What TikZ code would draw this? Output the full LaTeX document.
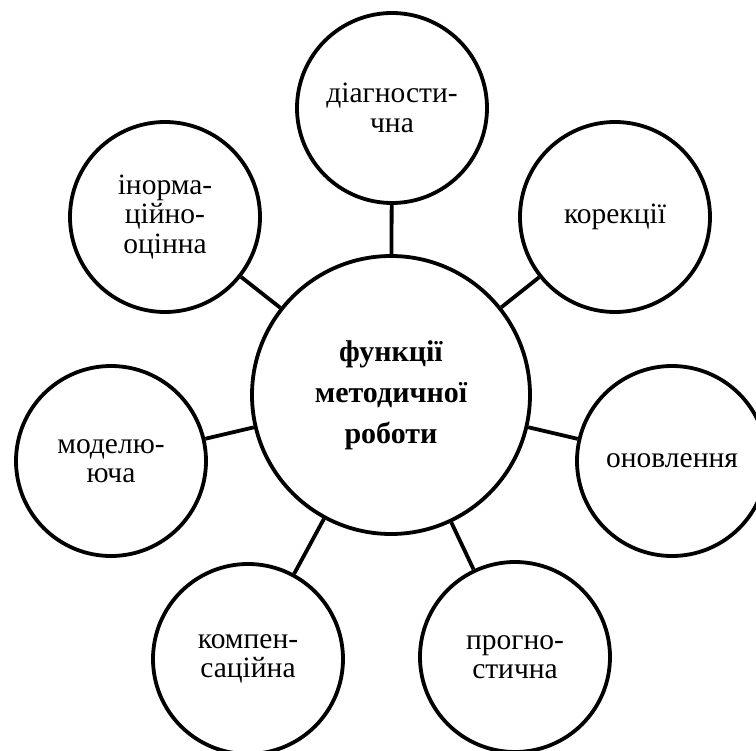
\documentclass[tikz,border=0pt]{standalone}
\usepackage{fontspec}
\setmainfont{Liberation Serif}
\IfFontExistsTF{LiberationSerif-Regular.ttf}
  {\newfontfamily\tnr{LiberationSerif-Regular.ttf}\newcommand\satsize{\fontsize{29.5}{29.5}\selectfont}}
  {\newfontfamily\tnr{DejaVu Serif}\newcommand\satsize{\fontsize{24}{29}\selectfont}}
\begin{document}
\begin{tikzpicture}[x=1pt,y=-1pt,
 sat/.style={circle,draw,line width=3.8pt,minimum size=190pt,inner sep=0pt,align=center,font=\tnr\satsize},
 hub/.style={circle,draw,line width=3.8pt,minimum size=278pt,inner sep=0pt,align=center,font=\fontsize{30}{41}\selectfont\bfseries},
 link/.style={line width=3.8pt}]
\useasboundingbox (0,0) rectangle (756,751);
\clip (0,0) rectangle (756,751);
\node[hub] (main) at (391,395) {функції\\методичної\\роботи};
\node[sat] (diag) at (392,108) {діагности-\\чна};
\node[sat] (info) at (165,217) {інорма-\\ційно-\\оцінна};
\node[sat] (kor) at (615,217) {корекції};
\node[sat] (mod) at (111,461) {моделю-\\юча};
\node[sat] (onov) at (672,461) {оновлення};
\node[sat] (komp) at (248,659) {компен-\\саційна};
\node[sat] (progn) at (515,657) {прогно-\\стична};
\foreach \s in {diag,info,kor,mod,onov,komp,progn}
  \draw[link] (main) -- (\s);
\end{tikzpicture}
\end{document}
